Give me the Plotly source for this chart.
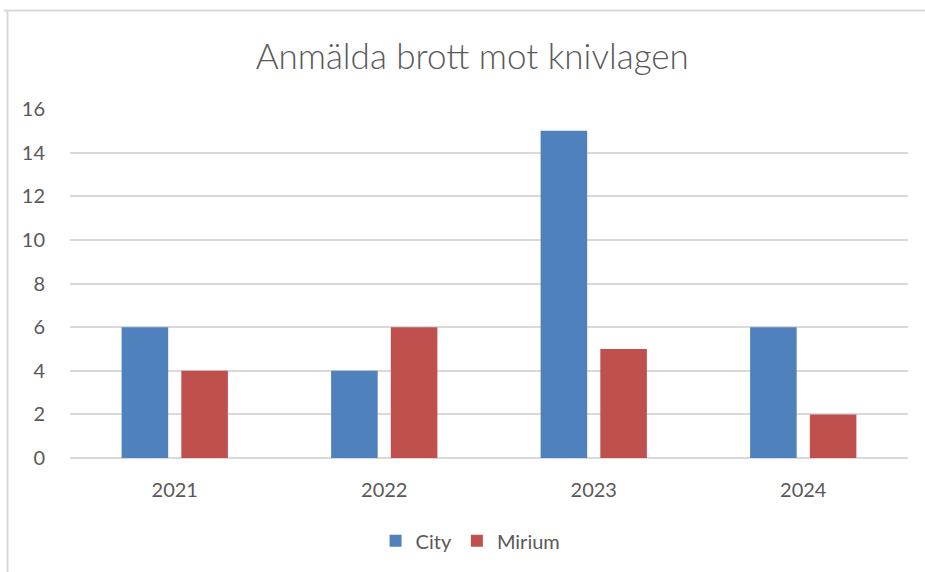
import plotly.graph_objects as go

years = ["2021", "2022", "2023", "2024"]
city = [6, 4, 15, 6]
mirium = [4, 6, 5, 2]

BLUE = "#4F81BD"
RED = "#C0504D"
GRID = "#D9D9D9"
TEXT = "#595959"
FONT = "Lato, Open Sans, sans-serif"

fig = go.Figure()
fig.add_trace(go.Bar(x=years, y=city, name="City", marker=dict(color=BLUE, line=dict(width=0))))
fig.add_trace(go.Bar(x=years, y=mirium, name="Mirium", marker=dict(color=RED, line=dict(width=0))))

# chart frame (top and left edge like the screenshot)
fig.add_shape(type="line", xref="paper", yref="paper", x0=-0.079, x1=1.03, y0=1.282, y1=1.282,
              line=dict(color=GRID, width=2))
fig.add_shape(type="line", xref="paper", yref="paper", x0=-0.0746, x1=-0.0746, y0=1.282, y1=-0.34,
              line=dict(color=GRID, width=2))

fig.update_layout(
    title=dict(text="Anmälda brott mot knivlagen", x=0.48, xref="paper", xanchor="center",
               y=1 - 57 / 572, yanchor="middle",
               font=dict(family=FONT, size=35, color=TEXT, weight=300)),
    barmode="group",
    bargap=0.43,
    bargroupgap=0.22,
    width=925,
    height=572,
    margin=dict(l=70, r=17, t=109, b=114),
    paper_bgcolor="white",
    plot_bgcolor="white",
    font=dict(family=FONT, size=20, color=TEXT),
    showlegend=True,
    legend=dict(orientation="h", x=0.478, xanchor="center", y=-0.237, yanchor="middle",
                font=dict(family=FONT, size=20, color=TEXT), itemwidth=30, traceorder="normal"),
)
fig.update_xaxes(showgrid=False, showline=False, ticks="outside", ticklen=14,
                 tickcolor="rgba(0,0,0,0)", tickfont=dict(size=20, color=TEXT))
fig.update_yaxes(range=[0, 16], dtick=2, showgrid=True, gridcolor=GRID, gridwidth=2,
                 zeroline=True, zerolinecolor=GRID, zerolinewidth=2, showline=False,
                 ticks="outside", ticklen=20, tickcolor="rgba(0,0,0,0)",
                 tickfont=dict(size=20, color=TEXT))

fig.write_html("out.html", config={"displayModeBar": False},
               post_script="document.body.style.margin='0px';")
